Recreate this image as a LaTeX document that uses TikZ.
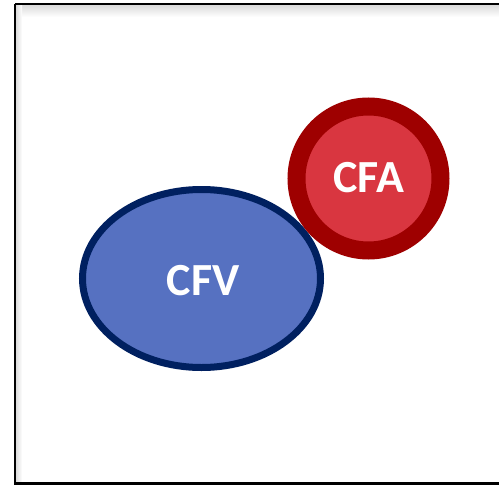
\documentclass[tikz,border=0pt]{standalone}
\usepackage{fontspec}
\setmainfont{Carlito}
\definecolor{cfvfill}{HTML}{5671C1}
\definecolor{cfvline}{HTML}{002060}
\definecolor{cfafill}{HTML}{D93640}
\definecolor{cfaline}{HTML}{9E0000}
\tikzset{
  lbl/.style={font=\fontsize{46}{46}\selectfont\bfseries, text=white},
}
\begin{document}
\begin{tikzpicture}[x=1pt,y=-1pt]
\useasboundingbox (0,0) rectangle (499,485);
\fill[white] (0,0) rectangle (499,485);
% shadow
\shade[top color=black!14, bottom color=white] (16,5) rectangle (505,17);
\shade[left color=black!14, right color=white] (16,5) rectangle (22,483);
% frame
\draw[line width=2.4pt] (15,4) -- (510,4);
\draw[line width=2.4pt] (15,4) -- (15,483.5) -- (510,483.5);
% CFV ellipse
\draw[line width=7pt, draw=cfvline, fill=cfvfill] (201.5,278.5) ellipse [x radius=119, y radius=89];
\node[lbl] (cfv) at (203,281) {CFV};
% CFA circle
\draw[line width=18pt, draw=cfaline, fill=cfafill] (368.5,178.5) circle [radius=72];
\node[lbl] (cfa) at (368.5,177.5) {CFA};
\end{tikzpicture}
\end{document}
